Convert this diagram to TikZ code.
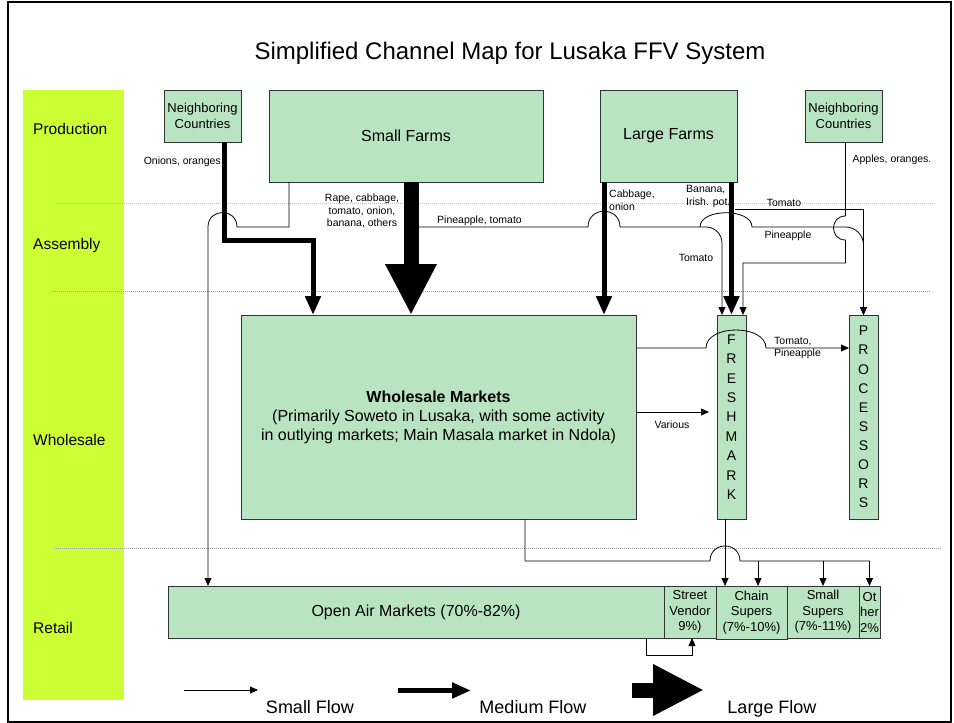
\documentclass[tikz,border=0pt]{standalone}
\usepackage{fontspec}
\setmainfont{Liberation Sans}
\usetikzlibrary{arrows.meta,calc}
\definecolor{boxgreen}{RGB}{185,228,193}
\definecolor{limecol}{RGB}{204,255,51}
\tikzset{
  box/.style={draw=black!80, fill=boxgreen, line width=0.9pt, inner sep=0pt, outer sep=0pt, anchor=north west, align=center},
  small/.style={draw, line width=0.8pt, -{Triangle[width=7pt,length=8pt]}},
  medium/.style={draw, line width=5pt, -{Triangle[width=15pt,length=19pt]}},
  large/.style={draw, line width=15pt, -{Triangle[width=48pt,length=51pt]}},
  lbl/.style={font=\fontsize{10.5}{12.8}\selectfont, inner sep=0pt, align=center},
  rowlbl/.style={font=\fontsize{15.5}{18}\selectfont, anchor=base west, inner sep=0pt},
  guide/.style={draw=gray!75, line width=0.8pt, dash pattern=on 1pt off 1pt},
  legtxt/.style={font=\fontsize{18}{20}\selectfont, anchor=base, inner sep=0pt}
}
\begin{document}
\begin{tikzpicture}[x=1pt,y=-1pt]
\useasboundingbox (0,0) rectangle (954,723);
\draw[line width=2pt] (7.5,1.5) rectangle (951,721.5);
\node[font=\fontsize{24}{28}\selectfont, anchor=base, inner sep=0pt] (title) at (510,59) {Simplified Channel Map for Lusaka FFV System};

% stage column
\fill[limecol] (23,90) rectangle (124,700);
\node[rowlbl] (rprod) at (33,134.5) {Production};
\node[rowlbl] (rass) at (33,249.5) {Assembly};
\node[rowlbl] (rwhole) at (33,445.5) {Wholesale};
\node[rowlbl] (rret) at (33,633.5) {Retail};

% guide lines
\draw[guide, draw=gray!50] (54,203) -- (935,203);
\draw[guide] (51,291) -- (930,291);
\draw[guide] (54,548) -- (942,548);

% boxes
\node[box, minimum width=77pt, minimum height=52pt, font=\fontsize{13}{15.3}\selectfont] (ncl) at (164,90) {Neighboring\\Countries};
\node[box, minimum width=274pt, minimum height=92pt, font=\fontsize{16}{19}\selectfont] (sf) at (269,90) {Small Farms};
\node[box, minimum width=137pt, minimum height=92pt, font=\fontsize{16}{19}\selectfont] (lf) at (600,90) {Large Farms};
\node[box, minimum width=77pt, minimum height=52pt, font=\fontsize{13}{15.3}\selectfont] (ncr) at (805,90) {Neighboring\\Countries};
\node[box, minimum width=395pt, minimum height=204pt, font=\fontsize{16}{19}\selectfont] (wm) at (241,315) {\textbf{Wholesale Markets}\\(Primarily Soweto in Lusaka, with some activity\\in outlying markets; Main Masala market in Ndola)};
\node[box, minimum width=29pt, minimum height=204pt, font=\fontsize{14}{19.4}\selectfont] (fm) at (717,315) {F\\R\\E\\S\\H\\M\\A\\R\\K};
\node[box, minimum width=29pt, minimum height=204pt, font=\fontsize{14}{19.1}\selectfont] (pr) at (849,315) {P\\R\\O\\C\\E\\S\\S\\O\\R\\S};
\node[box, minimum width=496pt, minimum height=52pt, font=\fontsize{16}{19}\selectfont] (oam) at (168,586) {Open Air Markets (70\%-82\%)};
\node[box, minimum width=52pt, minimum height=52pt, font=\fontsize{13}{15.5}\selectfont] (sv) at (664,586) {Street\\Vendor\\9\%)};
\node[box, minimum width=71pt, minimum height=53pt, font=\fontsize{13}{15.5}\selectfont] (cs) at (716,586) {Chain\\Supers\\(7\%-10\%)};
\node[box, minimum width=72pt, minimum height=52pt, font=\fontsize{13}{15.5}\selectfont] (ss) at (787,586) {Small\\Supers\\(7\%-11\%)};
\node[box, minimum width=21pt, minimum height=52pt, font=\fontsize{13}{15.5}\selectfont] (oth) at (859,586) {Ot\\her\\2\%};

% labels
\node[lbl, anchor=east] (lonion) at (221,162) {Onions, oranges};
\node[lbl] (lrape) at (362,211) {Rape, cabbage,\\tomato, onion,\\banana, others};
\node[lbl, anchor=west] (lpt) at (437,221) {Pineapple, tomato};
\node[lbl, align=left, anchor=west] (lcab) at (609,200) {Cabbage,\\onion};
\node[lbl, align=left, anchor=west] (lban) at (686,196.5) {Banana,\\Irish. pot.};
\node[lbl] (ltom1) at (784,203) {Tomato};
\node[lbl] (lpine) at (788,236) {Pineapple};
\node[lbl] (ltom2) at (696,258) {Tomato};
\node[lbl] (lapp) at (892,160) {Apples, oranges.};
\node[lbl, align=left, anchor=west] (ltp) at (774,348) {Tomato,\\Pineapple};
\node[lbl] (lvar) at (672,425) {Various};

% connectors
\draw[medium] ([xshift=-17pt]ncl.south east) -- ++(0,98) -| ([xshift=72pt]wm.north west);
\draw[small] ([xshift=20pt]sf.south west) -- ++(0,45) -- (237,227) .. controls (237,207.7) and (208,207.7) .. (208,227) -- ([xshift=40pt]oam.north west);
\draw[large] ([xshift=142pt]sf.south west) -- ([xshift=170pt]wm.north west);
\coordinate (pt0) at ([xshift=149pt,yshift=-45pt]sf.south west);
\draw[small] (pt0) -- (588,227) .. controls (588,206) and (620,206) .. (620,227) -- (700,227) .. controls (700,208) and (752,208) .. (752,227) [rounded corners=18pt] -| (pr.north);
\draw[small, rounded corners=16pt] (700,227) -| ([xshift=5pt]fm.north west);
\draw[small] ([xshift=-2pt,yshift=-27pt]lf.south east) -| (pr.north);
\draw[medium] ([xshift=4pt]lf.south west) -- ([xshift=4pt]lf.south west |- wm.north);
\draw[medium] (fm.north |- lf.south) -- (fm.north);
\draw[small] ([xshift=2pt]ncr.south) -- (845.5,216) .. controls (829.5,216) and (829.5,240) .. (845.5,240) -- (845.5,263) -| ([xshift=-3pt]fm.north east);
\coordinate (h1) at ([yshift=-33pt]wm.north east);
\draw[small] (h1) -- (706,348) .. controls (706,324) and (766,324) .. (766,348) -- (pr.west |- h1);
\coordinate (v1) at ([yshift=-97pt]wm.north east);
\draw[small] (v1) -- ([xshift=-8pt]fm.west |- v1);
\coordinate (j1) at ([xshift=-111pt,yshift=-42pt]wm.south east);
\draw[small] ([xshift=-111pt]wm.south east) -- (j1) -- (710,561) .. controls (710,541) and (740,541) .. (740,561) -| (oth.north);
\coordinate (csin) at ([xshift=-29pt]cs.north east);
\draw[small] (csin |- j1) -- (csin);
\draw[small] (ss.north |- j1) -- (ss.north);
\coordinate (fmo) at ([xshift=-6.5pt]fm.south);
\draw[small] (fmo) -- (fmo |- cs.north);
\draw[small] ([xshift=-18pt]oam.south east) -- ++(0,17) -| ([xshift=-24pt]sv.south east);

% legend
\coordinate (ls1) at (184,690); \coordinate (ls2) at (258,690);
\draw[small] (ls1) -- (ls2);
\coordinate (lm1) at (398,690.5); \coordinate (lm2) at (471,690.5);
\draw[medium] (lm1) -- (lm2);
\coordinate (ll1) at (632,690); \coordinate (ll2) at (704,690);
\draw[large] (ll1) -- (ll2);
\node[legtxt] (tsmall) at (310,713) {Small Flow};
\node[legtxt] (tmed) at (533,713) {Medium Flow};
\node[legtxt] (tlarge) at (772,713) {Large Flow};
\end{tikzpicture}
\end{document}
